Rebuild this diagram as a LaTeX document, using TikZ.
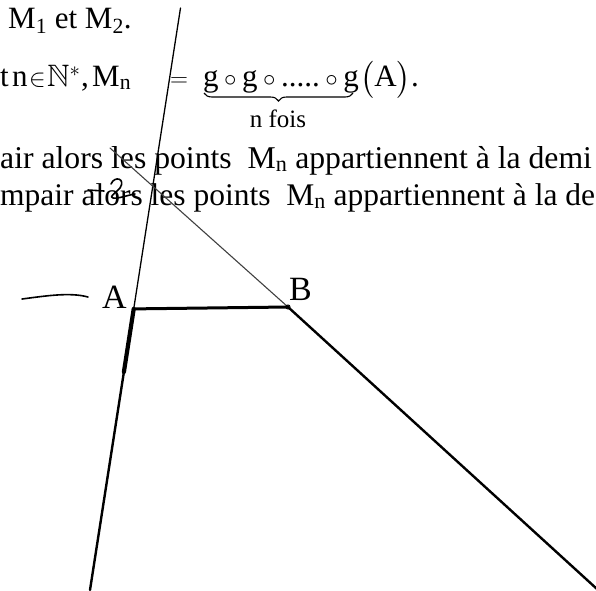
\documentclass[tikz,border=0pt]{standalone}
\usepackage{fontspec}
\setmainfont{Liberation Serif}
\usepackage{amsmath,amssymb}
\usetikzlibrary{calc,decorations.pathreplacing}
\begin{document}
\begin{tikzpicture}[x=1pt,y=-1pt,
  txt/.style={inner sep=0pt, anchor=base west, font=\fontsize{31}{37}\selectfont},
  bigA/.style={inner sep=0pt, anchor=base west, font=\fontsize{31.7}{37}\selectfont},
  bigB/.style={inner sep=0pt, anchor=base west, font=\fontsize{31.5}{37}\selectfont},
  small/.style={inner sep=0pt, anchor=base, font=\fontsize{25}{30}\selectfont},
  lab/.style={inner sep=0pt, anchor=base west, font=\fontsize{34}{40}\selectfont},
  thinline/.style={line width=1.3pt, line cap=round},
  greyline/.style={line width=1.1pt, draw=black!75, line cap=round},
  midline/.style={line width=2.4pt, line cap=round},
  heavyline/.style={line width=4.2pt, line cap=round},
  abline/.style={line width=3pt, line cap=round},
  bracestyle/.style={line width=1.1pt, decorate, decoration={brace, mirror, amplitude=8pt}},
  hand/.style={line width=1.6pt, line cap=round, line join=round}]
\useasboundingbox (0,0) rectangle (596,590);
\clip (0,0) rectangle (596,590);

% texts
\node[txt] (l1) at (8,28) {$\text{M}_{\text{1}}$ et $\text{M}_{\text{2}}$.};
\node[txt] (l2a) at (0,86) {t};
\node[txt] (l2b) at (12,86) {n};
\node[txt] (l2c) at (29,86) {$\in$};
\node[txt] (l2d) at (47,86) {$\mathbb{N}^{*}$};
\node[txt] (l2e) at (81,86) {,};
\node[txt] (l2f) at (92,86) {$\text{M}_{\text{n}}$};
\node[txt] (l2g) at (170,86) {$=$};
\node[txt] (l2h) at (203,86) {$\text{g}\circ\text{g}\circ\text{.....}\circ\text{g}$};
\node[txt] (l2i) at (360,86) {$\bigl(\text{A}\bigr)$.};
\coordinate (br1) at (204,93);
\coordinate (br2) at (353,93);
\draw[bracestyle] (br1) -- (br2);
\node[small] (nf) at (278,127) {n fois};
\node[bigA] (l3) at (0,168) {air alors les points \ $\text{M}_{\text{n}}$ appartiennent à la demi};
\node[bigB] (l4) at (0,205) {mpair alors les points \ $\text{M}_{\text{n}}$ appartiennent à la de};

% geometry
\coordinate (T1) at (180.5,8);
\coordinate (E1) at (90,590);
\coordinate (A) at ($(T1)!0.517!(E1)$);
\coordinate (K) at ($(T1)!0.6254!(E1)$);
\coordinate (T2) at (110,148);
\coordinate (B) at (288,307);
\coordinate (E2) at (597,589);

\draw[thinline] (T1) -- (A);
\draw[heavyline] (A) -- (K);
\draw[midline] (K) -- (E1);
\draw[greyline] (T2) -- (B);
\draw[midline] (B) -- (E2);
\draw[abline] (A) -- (B);
\draw[line width=1pt] (B) circle (2pt);

\node[lab] (labA) at (102,308) {A};
\node[lab] (labB) at (289,300) {B};

% handwritten marks
\coordinate (H1) at (22,299);
\coordinate (H2) at (88,297);
\draw[hand] (H1) .. controls (45,296) and (70,292) .. (H2);
\coordinate (S1) at (88,190);
\coordinate (S2) at (104,191);
\draw[hand] (S1) -- (S2);
\coordinate (Q1) at (111,184);
\coordinate (Q2) at (135,194);
\draw[hand] (Q1) .. controls (115,175) and (126,179) .. (120,188)
  .. controls (116,193) and (108,197) .. (113,198)
  .. controls (118,199) and (128,195) .. (Q2);
\end{tikzpicture}
\end{document}
